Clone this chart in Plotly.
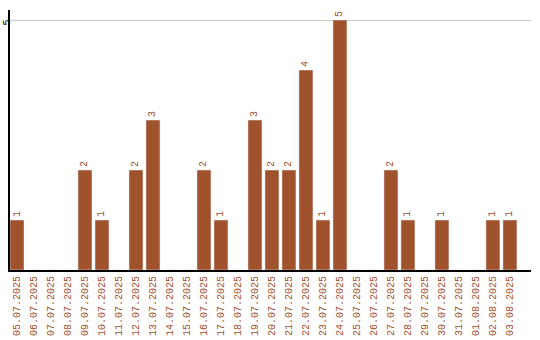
import plotly.graph_objects as go

dates = ["05.07.2025", "06.07.2025", "07.07.2025", "08.07.2025", "09.07.2025",
         "10.07.2025", "11.07.2025", "12.07.2025", "13.07.2025", "14.07.2025",
         "15.07.2025", "16.07.2025", "17.07.2025", "18.07.2025", "19.07.2025",
         "20.07.2025", "21.07.2025", "22.07.2025", "23.07.2025", "24.07.2025",
         "25.07.2025", "26.07.2025", "27.07.2025", "28.07.2025", "29.07.2025",
         "30.07.2025", "31.07.2025", "01.08.2025", "02.08.2025", "03.08.2025"]
counts = [1, 0, 0, 0, 2, 1, 0, 2, 3, 0, 0, 2, 1, 0, 3, 2, 2, 4, 1, 5,
          0, 0, 2, 1, 0, 1, 0, 0, 1, 1]

color = "#A0522D"
fig = go.Figure(go.Bar(
    x=list(range(len(dates))), y=counts,
    marker_color=color,
    text=[str(v) if v else "" for v in counts],
    textposition="outside", textangle=-90,
    textfont=dict(color=color, size=10, family="Liberation Mono"),
    cliponaxis=False,
))
fig.update_layout(
    width=540, height=340,
    margin=dict(l=10, r=9, t=10, b=70),
    paper_bgcolor="white", plot_bgcolor="white",
    bargap=0.176, showlegend=False,
    font=dict(family="Liberation Mono", size=10),
    uniformtext=dict(minsize=10, mode="show"),
)
fig.update_xaxes(
    range=[-0.412, 30.24], tickmode="array",
    tickvals=list(range(len(dates))), ticktext=dates,
    tickangle=-90, tickfont=dict(color=color, size=10),
    showline=True, linecolor="black", linewidth=2,
    showgrid=False, ticks="", zeroline=False, automargin=False,
)
fig.update_yaxes(
    range=[0, 5.2], tickvals=[5], ticktext=["5"], tickangle=-90,
    tickfont=dict(color="black", size=10),
    showline=True, linecolor="black", linewidth=2,
    showgrid=True, gridcolor="#cccccc", zeroline=False, ticks="",
    automargin=False, ticklabelstandoff=-6, ticklabelshift=4,
)
fig.write_html("out.html")
